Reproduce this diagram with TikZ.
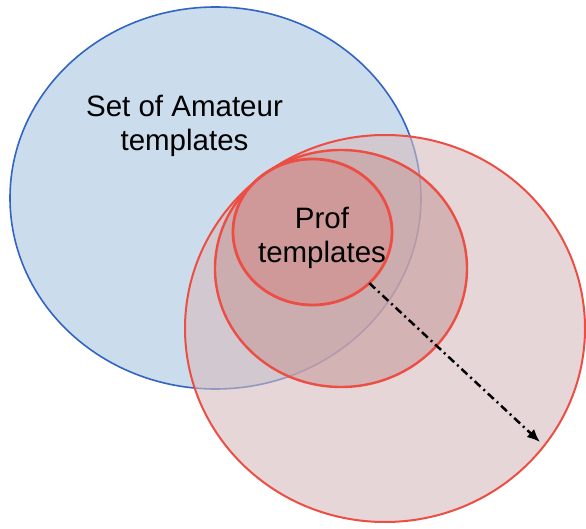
\documentclass[tikz,border=0pt]{standalone}
\usepackage{fontspec}
\setmainfont{Liberation Sans}
\usetikzlibrary{shapes.geometric,arrows.meta}
\definecolor{bluefill}{RGB}{203,220,236}
\definecolor{bluestroke}{RGB}{50,100,195}
\definecolor{redstroke}{RGB}{236,78,68}
\definecolor{largefill}{RGB}{213,187,190}
\definecolor{midfill}{RGB}{200,156,156}
\definecolor{smallfill}{RGB}{212,140,138}
\tikzset{
  setshape/.style={ellipse, inner sep=0pt, outer sep=0pt},
  redset/.style={setshape, draw=redstroke, fill opacity=0.6},
  lbl/.style={align=center, text=black, font=\fontsize{29.5}{34}\selectfont, inner sep=0pt}
}
\begin{document}
\begin{tikzpicture}[x=1pt,y=1pt]
\useasboundingbox (0,0) rectangle (586,528);
\node[setshape, draw=bluestroke, fill=bluefill, line width=1.6pt,
      minimum width=411pt, minimum height=382pt] (amateur) at (215.5,330) {};
\node[redset, fill=largefill, line width=2pt,
      minimum width=400pt, minimum height=387pt] (large) at (385,199.5) {};
\node[redset, fill=midfill, line width=2.4pt,
      minimum width=252pt, minimum height=237pt] (middle) at (341,259.5) {};
\node[redset, fill=smallfill, line width=2.8pt,
      minimum width=159pt, minimum height=146pt] (prof) at (312.5,296) {};
\node[lbl] (amateurlbl) at (184.5,402) {Set of Amateur\\templates};
\node[lbl] (proflbl) at (322,290.5) {Prof\\templates};
\coordinate (tip) at (540,86);
\draw[line width=2.5pt, dash pattern=on 8pt off 4pt on 2pt off 4pt,
      -{Latex[length=13pt,width=11pt]}] (prof.-42) -- (tip);
\end{tikzpicture}
\end{document}
